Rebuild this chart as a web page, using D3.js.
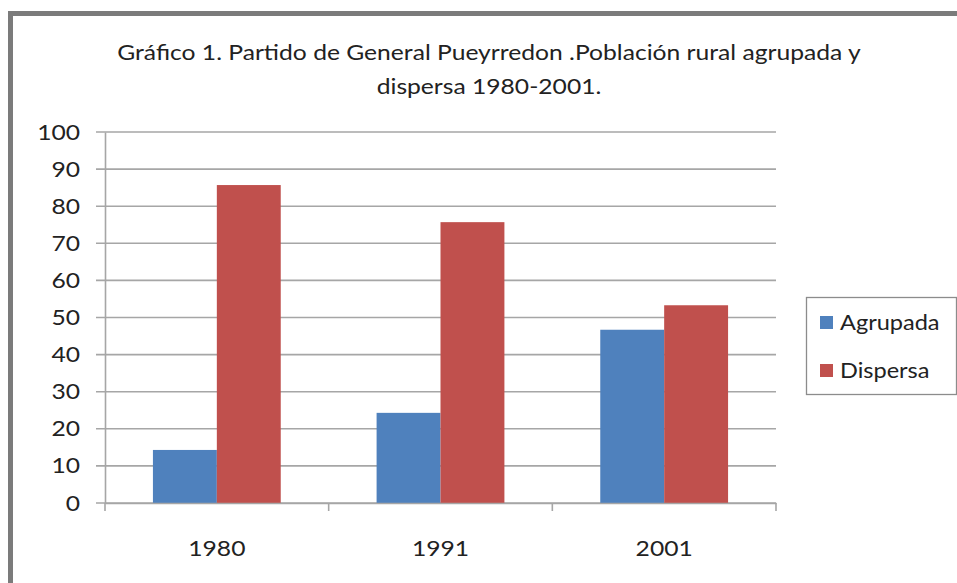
<!DOCTYPE html>
<html><head><meta charset="utf-8">
<script src="https://cdn.jsdelivr.net/npm/d3@7"></script>
<style>body{margin:0;background:#fff}svg{display:block}text{font-family:Lato,"Liberation Sans",sans-serif;fill:#222}</style>
</head><body><svg id="c" width="957" height="583"></svg>
<script>
const categories = ["1980", "1991", "2001"];
const seriesNames = ["Agrupada", "Dispersa"];
const agrupada = [14.3, 24.3, 46.7];
const dispersa = [85.7, 75.7, 53.3];
const yTicks = [0, 10, 20, 30, 40, 50, 60, 70, 80, 90, 100];
const colors = ["#4f81bd", "#c0504d"];
const titleLines = ["Gráfico 1. Partido de General  Pueyrredon .Población rural agrupada y", "dispersa 1980-2001."];

const FONT = "Lato";
const STRETCH = 1.12;
const svg = d3.select("#c");
// frame
svg.append("rect").attr("x", 10.5).attr("y", 13.5).attr("width", 960).attr("height", 600)
  .attr("fill", "#fff").attr("stroke", "#7b7b7b").attr("stroke-width", 5);

const L = 105, R = 776, T = 132, B = 503;
const x = d3.scaleBand().domain(categories).range([L, R]).paddingInner(0).paddingOuter(0);
const y = d3.scaleLinear().domain([0, 100]).range([B, T]);
const groupW = x.bandwidth() / 1.75;
const xs = d3.scaleBand().domain(seriesNames).range([0, groupW]);

// gridlines
svg.append("g").selectAll("line").data(yTicks).join("line")
  .attr("x1", L - 9).attr("x2", R).attr("y1", d => y(d)).attr("y2", d => y(d))
  .attr("stroke", "#a6a6a6").attr("stroke-width", 1.6);

// y axis
const ya = svg.append("g").attr("transform", `translate(${L},0)`)
  .call(d3.axisLeft(y).tickValues(yTicks).tickSize(0).tickPadding(25));
ya.select(".domain").attr("stroke", "#a6a6a6").attr("stroke-width", 1.6);
ya.selectAll("text").attr("font-size", 22).attr("font-family", FONT).attr("fill", "#222");

// bars
const data = categories.map((c, i) => ({c, vals: [agrupada[i], dispersa[i]]}));
const g = svg.append("g").selectAll("g").data(data).join("g")
  .attr("transform", d => `translate(${x(d.c) + (x.bandwidth() - groupW) / 2},0)`);
g.selectAll("rect").data(d => d.vals.map((v, j) => ({v, s: seriesNames[j], j}))).join("rect")
  .attr("x", d => xs(d.s)).attr("width", xs.bandwidth())
  .attr("y", d => y(d.v)).attr("height", d => B - y(d.v))
  .attr("fill", d => colors[d.j]);

// x axis
const xa = svg.append("g").attr("transform", `translate(0,${B})`)
  .call(d3.axisBottom(x).tickSize(0).tickPadding(37));
xa.select(".domain").attr("stroke", "#a6a6a6").attr("stroke-width", 1.6);
xa.selectAll("text").attr("font-size", 22).attr("font-family", FONT).attr("fill", "#222");
svg.append("g").selectAll("line").data(categories.concat(["end"])).join("line")
  .attr("x1", (d, i) => i < categories.length ? x(d) : R).attr("x2", (d, i) => i < categories.length ? x(d) : R)
  .attr("y1", B).attr("y2", B + 8).attr("stroke", "#a6a6a6").attr("stroke-width", 1.6);

// title
svg.append("g").selectAll("text").data(titleLines).join("text")
  .attr("x", 489).attr("y", (d, i) => 60 + i * 34).attr("text-anchor", "middle")
  .attr("font-size", 22).attr("font-family", FONT).text(d => d);

// legend
svg.append("rect").attr("x", 806.5).attr("y", 297.5).attr("width", 150).attr("height", 97)
  .attr("fill", "#fff").attr("stroke", "#8c8c8c").attr("stroke-width", 1.3);
const lg = svg.append("g").selectAll("g").data(seriesNames).join("g")
  .attr("transform", (d, i) => `translate(820,${322 + i * 48})`);
lg.append("rect").attr("x", 0).attr("y", -6).attr("width", 13).attr("height", 13).attr("fill", (d, i) => colors[i]);
lg.append("text").attr("x", 20).attr("y", 8).attr("font-size", 21).attr("font-family", FONT).text(d => d);

// the reference text is slightly wider than the substitute font: stretch horizontally
svg.selectAll("text").each(function () {
  const w = this.getComputedTextLength();
  d3.select(this).attr("textLength", w * STRETCH).attr("lengthAdjust", "spacingAndGlyphs");
});
</script></body></html>
